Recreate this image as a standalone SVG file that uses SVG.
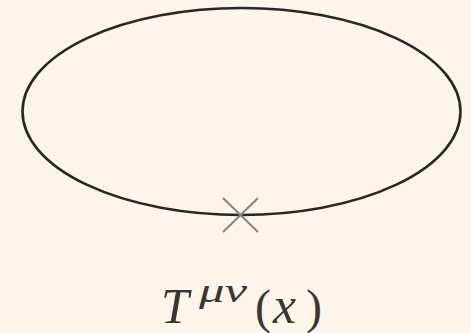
<svg xmlns="http://www.w3.org/2000/svg" width="471" height="333" viewBox="0 0 471 333">
<style>
.bg{fill:#fdf4ea}
.loop{fill:none;stroke:#2a2622;stroke-width:2.6}
.cross{stroke:#8a8580;stroke-width:2}
.lbl{font-family:"Liberation Serif",serif;font-style:italic;fill:#3a3633}
.up{font-family:"Liberation Serif",serif;fill:#3a3633}
</style>
<rect class="bg" x="0" y="0" width="471" height="333"/>
<g id="loop">
<ellipse class="loop" cx="241.5" cy="111.5" rx="219" ry="103.5"/>
</g>
<g id="vertex">
<line class="cross" x1="223" y1="198" x2="258" y2="232"/>
<line class="cross" x1="258" y1="198" x2="223" y2="232"/>
</g>
<g id="label">
<text class="lbl" x="161" y="323" font-size="50">T</text>
<text class="lbl" x="199" y="302" font-size="34" textLength="48" lengthAdjust="spacingAndGlyphs">μν</text>
<text class="up" x="255" y="323" font-size="48">(</text>
<text class="lbl" x="273" y="323" font-size="52">x</text>
<text class="up" x="306" y="323" font-size="48">)</text>
</g>
</svg>
